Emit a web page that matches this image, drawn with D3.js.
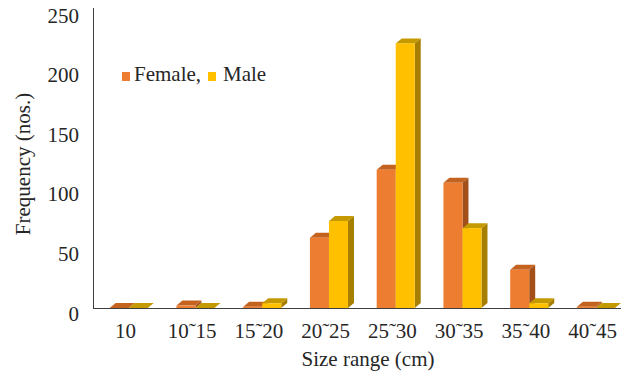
<!DOCTYPE html>
<html>
<head>
<meta charset="utf-8">
<script src="https://cdn.jsdelivr.net/npm/d3@7"></script>
<style>
  html, body { margin: 0; padding: 0; background: #fff; }
</style>
</head>
<body>
<svg id="chart" width="623" height="374"></svg>
<script>
// Size classes and counts per sex
const categories = ["10", "10˜15", "15˜20", "20˜25", "25˜30", "30˜35", "35˜40", "40˜45"];
const femaleCounts = [0, 2, 1, 59, 116, 105, 32, 1];
const maleCounts = [0, 0, 4, 73, 222, 67, 4, 0];
const yTicks = [0, 50, 100, 150, 200, 250];
const seriesNames = ["Female", "Male"];

const FONT = '"Liberation Serif", "Times New Roman", serif';
const svg = d3.select("#chart");

const x = d3.scaleBand().domain(categories).range([92, 626]).padding(0);
const x1 = d3.scaleBand().domain(seriesNames)
  .range([x.bandwidth() * 0.265, x.bandwidth() * 0.835]).padding(0);
const y = d3.scaleLinear().domain([0, 250]).range([308, 10]);

// colours for front / top / side faces
const faces = {
  Female: { front: "#ED7D31", top: "#C4621F", side: "#A34F1A" },
  Male:   { front: "#FFC000", top: "#C49A00", side: "#A67F00" }
};
const depthX = 6, depthY = 5;

const rows = categories.map((c, i) => ({
  cat: c,
  bars: [
    { key: "Female", value: femaleCounts[i] },
    { key: "Male", value: maleCounts[i] }
  ]
}));

function label(sel) {
  return sel.style("font-family", FONT).style("font-size", "21px").attr("fill", "#262626");
}

// y axis line and tick labels
svg.append("line")
  .attr("x1", 93.5).attr("x2", 93.5)
  .attr("y1", y(250) - 2).attr("y2", y(0))
  .attr("stroke", "#3f3f3f").attr("stroke-width", 1);

svg.append("g").selectAll("text").data(yTicks).join("text")
  .call(label)
  .attr("x", 79).attr("y", d => y(d) + 5.5)
  .attr("text-anchor", "end").attr("dominant-baseline", "central")
  .text(d => d);

// 3D columns
const groups = svg.append("g").selectAll("g").data(rows).join("g")
  .attr("transform", d => `translate(${x(d.cat)},0)`);

groups.each(function(row) {
  const g = d3.select(this);
  row.bars.forEach(b => {
    const x0 = x1(b.key), w = x1.bandwidth();
    const yt = y(b.value), yb = y(0);
    const f = faces[b.key];
    // side face
    g.append("path")
      .attr("d", `M${x0 + w},${yt} L${x0 + w + depthX},${yt - depthY} L${x0 + w + depthX},${yb - depthY} L${x0 + w},${yb} Z`)
      .attr("fill", f.side);
    // top face
    g.append("path")
      .attr("d", `M${x0},${yt} L${x0 + depthX},${yt - depthY} L${x0 + w + depthX},${yt - depthY} L${x0 + w},${yt} Z`)
      .attr("fill", f.top);
    // front face
    if (yb - yt > 0) {
      g.append("rect")
        .attr("x", x0).attr("y", yt)
        .attr("width", w).attr("height", yb - yt)
        .attr("fill", f.front);
    }
  });
});

// baseline
svg.append("line")
  .attr("x1", 93).attr("x2", 621)
  .attr("y1", y(0) + 0.5).attr("y2", y(0) + 0.5)
  .attr("stroke", "#3f3f3f").attr("stroke-width", 1);

// x tick labels
svg.append("g").selectAll("text").data(categories).join("text")
  .call(label)
  .attr("x", d => x(d) + x.bandwidth() / 2)
  .attr("y", 338)
  .attr("text-anchor", "middle")
  .text(d => d);

// axis titles
svg.append("text").call(label)
  .attr("x", 368).attr("y", 366)
  .attr("text-anchor", "middle")
  .text("Size range (cm)");

svg.append("text").call(label)
  .attr("transform", "translate(30,164) rotate(-90)")
  .attr("text-anchor", "middle")
  .text("Frequency (nos.)");

// legend
const legend = svg.append("g");
legend.append("rect").attr("x", 122).attr("y", 72).attr("width", 8).attr("height", 9)
  .attr("fill", faces.Female.front);
legend.append("text").call(label).attr("x", 134).attr("y", 81).text("Female,");
legend.append("rect").attr("x", 208).attr("y", 72).attr("width", 8).attr("height", 9)
  .attr("fill", faces.Male.front);
legend.append("text").call(label).attr("x", 223).attr("y", 81).text("Male");
</script>
</body>
</html>
